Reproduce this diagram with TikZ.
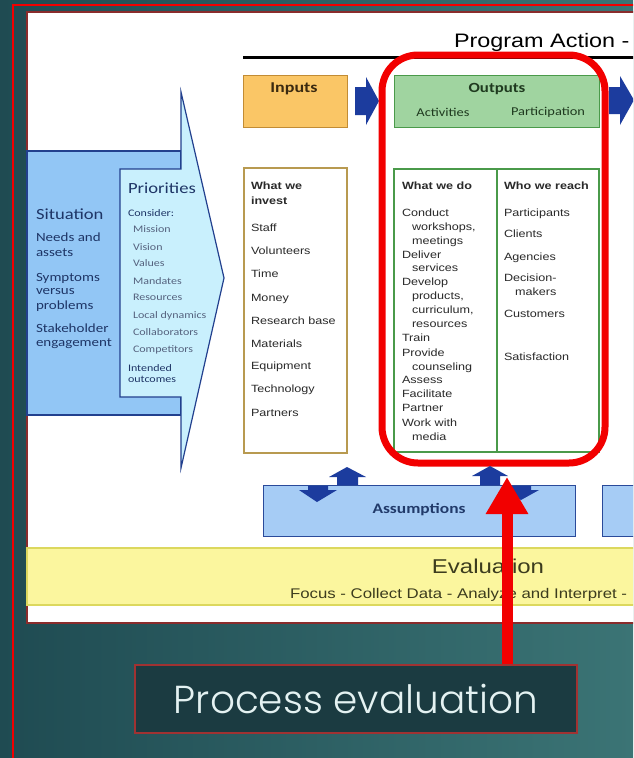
\documentclass[tikz,border=0pt]{standalone}
\usepackage{fontspec}
\usetikzlibrary{arrows.meta}

% Wide sans faces for the logic model, geometric face for the caption
\newfontfamily\arialw{Liberation Sans}[FakeStretch=1.2]
\newfontfamily\calw{Carlito}[FakeStretch=1.2]
\IfFontExistsTF{Poppins Light}{\newfontfamily\gothic{Poppins Light}}{\newfontfamily\gothic{Poppins}}

\definecolor{bgleft}{HTML}{1F4B52}
\definecolor{bgright}{HTML}{3B7475}
\definecolor{framered}{HTML}{F20000}
\definecolor{panelbd}{HTML}{8A2C2C}
\definecolor{sitfill}{HTML}{92C6F5}
\definecolor{sitbd}{HTML}{22408E}
\definecolor{priofill}{HTML}{C9F0FD}
\definecolor{sittext}{HTML}{1E3566}
\definecolor{priotext}{HTML}{55627E}
\definecolor{infill}{HTML}{FAC666}
\definecolor{inbd}{HTML}{C28C34}
\definecolor{intext}{HTML}{3B2A10}
\definecolor{outfill}{HTML}{A0D4A0}
\definecolor{outbd}{HTML}{4A9A4A}
\definecolor{outtext}{HTML}{1F3A1F}
\definecolor{colbd}{HTML}{B89A50}
\definecolor{coltext}{HTML}{2A2A2A}
\definecolor{arrowblue}{HTML}{1C3C9E}
\definecolor{asmfill}{HTML}{A6CCF5}
\definecolor{asmbd}{HTML}{2A4A9A}
\definecolor{asmtext}{HTML}{213A6A}
\definecolor{evfill}{HTML}{FBF69E}
\definecolor{evbd}{HTML}{DCD85E}
\definecolor{evtext}{HTML}{3C3C1E}
\definecolor{pefill}{HTML}{1B3B41}
\definecolor{pebd}{HTML}{A03232}
\definecolor{petext}{HTML}{E4F2F2}

\tikzset{
  txt/.style={inner sep=0pt, outer sep=0pt, anchor=base west},
  sittitle/.style={txt, font=\calw\fontsize{15.5}{17}\selectfont, text=sittext},
  sitbody/.style={txt, font=\calw\fontsize{12.5}{14}\selectfont, text=sittext},
  priobody/.style={txt, font=\calw\fontsize{10}{11}\selectfont, text=sittext},
  prioitem/.style={txt, font=\calw\fontsize{10}{11}\selectfont, text=priotext},
  colhead/.style={txt, font=\arialw\bfseries\fontsize{10.5}{12}\selectfont, text=coltext},
  colitem/.style={txt, font=\arialw\fontsize{10.5}{12}\selectfont, text=coltext},
  blockarrow/.style={fill=arrowblue},
  thinbox/.style={line width=1.2pt}
}

\begin{document}
\begin{tikzpicture}[x=1pt,y=-1pt]
\useasboundingbox (0,0) rectangle (633,758);
\clip (0,0) rectangle (633,758);

% slide background and red frame lines
\shade[left color=bgleft, right color=bgright] (0,0) rectangle (633,758);
\draw[framered, line width=2pt] (13,760) -- (13,5) -- (640,5);

% white panel
\draw[panelbd, line width=1.2pt, fill=white] (27,12) rectangle (645,623);

% heading
\node[txt, font=\arialw\fontsize{19.5}{21}\selectfont, text=black] (title) at (454,47) {Program Action -};
\draw[line width=3pt] (243,57) -- (640,57);

% situation panel and priorities arrow
\draw[thinbox, draw=sitbd, fill=sitfill] (27,151) rectangle (181,415);
\draw[thinbox, draw=sitbd, fill=priofill, line join=miter]
  (120,169) -- (181,169) -- (181,92) -- (224,278) -- (181,468) -- (181,397) -- (120,397) -- cycle;

\node[sittitle] (sit) at (36,219) {Situation};
\foreach \t/\yy [count=\i] in {Needs and/241, assets/256, Symptoms/281, versus/294,
    problems/309, Stakeholder/332, engagement/346}
  \node[sitbody, name=sit\i] at (36,\yy) {\t};

\node[sittitle] (prio) at (128,193) {Priorities};
\node[priobody] (consider) at (128,216) {Consider:};
\foreach \t/\yy [count=\i] in {Mission/232, Vision/250, Values/266, Mandates/284,
    Resources/300, Local dynamics/318, Collaborators/335, Competitors/352}
  \node[prioitem, name=prio\i] at (133,\yy) {\t};
\node[priobody] (intended) at (128,371) {Intended};
\node[priobody] (outcomes) at (128,382) {outcomes};

% top row: inputs, outputs and the arrows between them
\node[thinbox, draw=inbd, fill=infill, minimum width=104pt, minimum height=52pt,
      anchor=north west] (inputs) at (243,75) {};
\node[inner sep=0pt, font=\calw\bfseries\fontsize{15}{16}\selectfont, text=intext]
  (inlabel) at (294,89) {Inputs};
\fill[blockarrow] (355,87) -- (366,87) -- (366,77) -- (379,101) -- (366,125)
  -- (366,115) -- (355,115) -- cycle;
\node[thinbox, draw=outbd, fill=outfill, minimum width=205pt, minimum height=52pt,
      anchor=north west] (outputs) at (394,75) {};
\node[inner sep=0pt, font=\calw\bfseries\fontsize{14}{15}\selectfont, text=outtext]
  (outlabel) at (497,89) {Outputs};
\node[inner sep=0pt, font=\calw\fontsize{12}{13}\selectfont, text=outtext]
  (act) at (443,112) {Activities};
\node[inner sep=0pt, font=\calw\fontsize{12}{13}\selectfont, text=outtext]
  (part) at (548,112) {Participation};
\fill[blockarrow] (609,87) -- (620,87) -- (620,76) -- (634,100) -- (620,125)
  -- (620,114) -- (609,114) -- cycle;

% inputs column
\draw[thinbox, draw=colbd] (244,168) rectangle (347,453);
\node[colhead] (inv0a) at (251,189) {What we};
\node[colhead] (inv0b) at (251,204) {invest};
\foreach \t/\yy [count=\i] in {Staff/231, Volunteers/254, Time/277, Money/301,
    Research base/324, Materials/347, Equipment/369, Technology/392, Partners/416}
  \node[colitem, name=inv\i] at (251,\yy) {\t};

% outputs columns
\draw[thinbox, draw=outbd] (394,169) rectangle (599,452);
\draw[thinbox, draw=outbd] (497,169) -- (497,452);
\node[colhead] (dohead) at (402,189) {What we do};
\foreach \t/\xx/\yy [count=\i] in {Conduct/402/216, {workshops,}/412/230,
    meetings/412/244, Deliver/402/258, services/412/271, Develop/402/285,
    {products,}/412/299, {curriculum,}/412/313, resources/412/327, Train/402/341,
    Provide/402/356, counseling/412/370, Assess/402/383, Facilitate/402/397,
    Partner/402/411, Work with/402/426, media/412/440}
  \node[colitem, name=do\i] at (\xx,\yy) {\t};
\node[colhead] (reachhead) at (504,189) {Who we reach};
\foreach \t/\xx/\yy [count=\i] in {Participants/504/216, Clients/504/237,
    Agencies/504/260, Decision-/504/281, makers/515/295, Customers/504/317,
    Satisfaction/504/360}
  \node[colitem, name=reach\i] at (\xx,\yy) {\t};

% highlight around the outputs
\draw[framered, line width=7pt, rounded corners=36pt] (382,55) rectangle (605,463);

% assumptions row with the double arrows
\node[thinbox, draw=asmbd, fill=asmfill, minimum width=312pt, minimum height=51pt,
      anchor=north west] (asm) at (263,485) {};
\node[inner sep=0pt, font=\calw\bfseries\fontsize{14.5}{16}\selectfont, text=asmtext]
  (asmlabel) at (419,510) {Assumptions};
\node[thinbox, draw=asmbd, fill=asmfill, minimum width=50pt, minimum height=51pt,
      anchor=north west] (ext) at (602,485) {};
\fill[blockarrow] (347,467) -- (366,477) -- (358,477) -- (358,485) -- (337,485)
  -- (337,477) -- (329,477) -- cycle;
\fill[blockarrow] (308,486) -- (328,486) -- (328,490) -- (337,490) -- (317,502)
  -- (299,490) -- (308,490) -- cycle;
\fill[blockarrow] (490,466) -- (508,476) -- (500,476) -- (500,485) -- (480,485)
  -- (480,476) -- (472,476) -- cycle;
\fill[blockarrow] (511,486) -- (531,486) -- (531,490) -- (539,490) -- (521,500)
  -- (503,490) -- (511,490) -- cycle;

% evaluation band
\draw[thinbox, draw=evbd, fill=evfill] (27,548) rectangle (645,605);
\node[inner sep=0pt, font=\arialw\fontsize{20}{22}\selectfont, text=evtext]
  (evtitle) at (488,566) {Evaluation};
\node[txt, font=\arialw\fontsize{14}{16}\selectfont, text=evtext]
  (evsteps) at (290,598) {Focus - Collect Data - Analyze and Interpret -};

% caption box and the pointer up to the outputs
\node[draw=pebd, line width=1.5pt, fill=pefill, minimum width=442pt,
      minimum height=68pt, inner sep=0pt, text=petext,
      font=\gothic\fontsize{39}{41}\selectfont] (pe) at (356,699) {Process evaluation};
\coordinate (tip) at (507,477);
\draw[framered, line width=11pt, -{Triangle[length=37pt,width=40pt]}]
  (pe.north -| tip) -- (tip);
\end{tikzpicture}
\end{document}
